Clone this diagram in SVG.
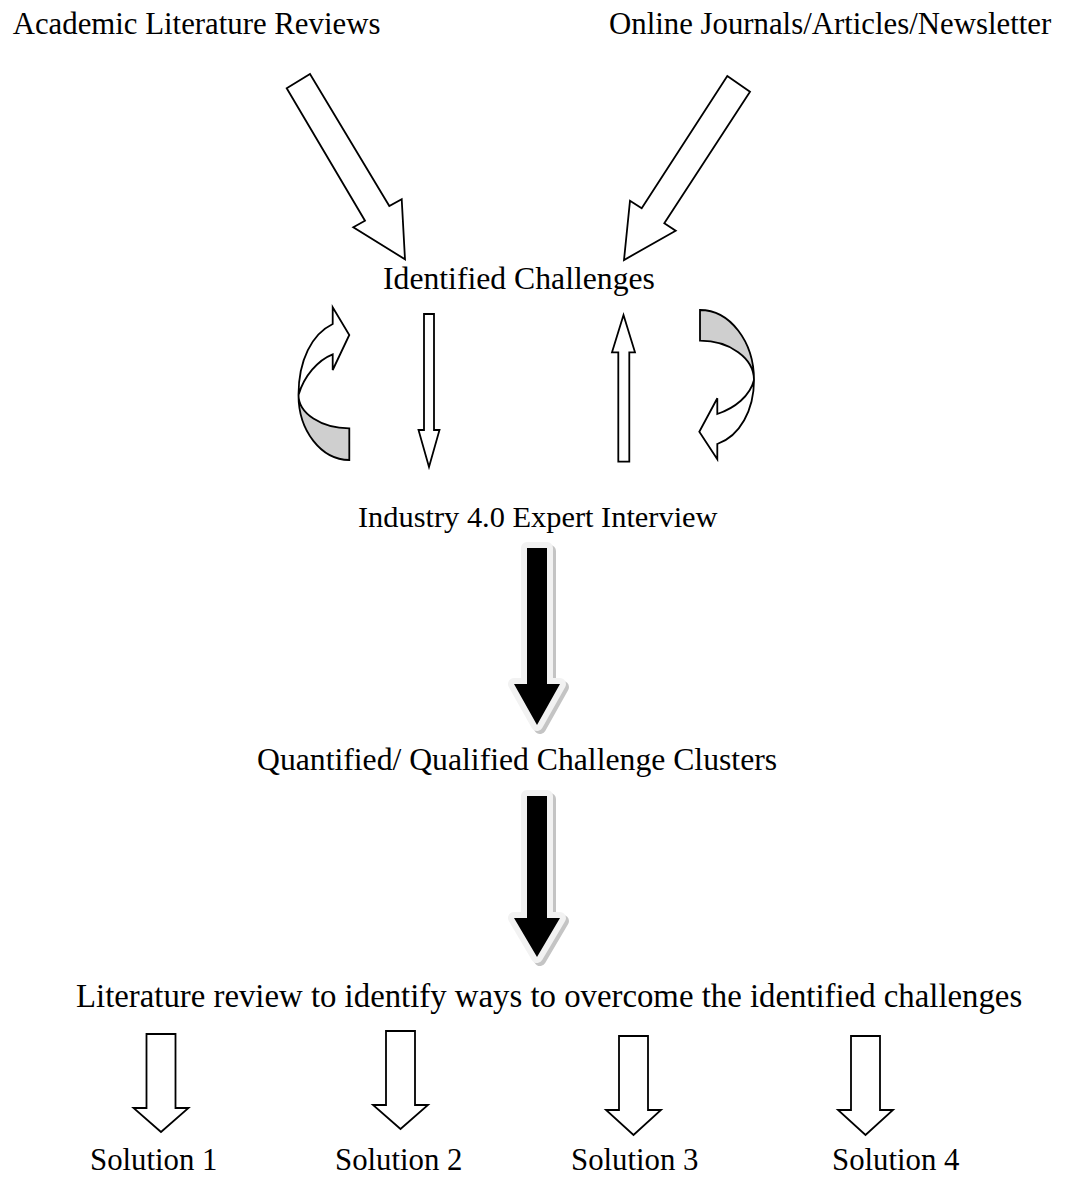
<svg xmlns="http://www.w3.org/2000/svg" width="1082" height="1178" viewBox="0 0 1082 1178">
<style>
  .t { font-family: "Liberation Serif", "Times New Roman", serif; font-size: 30.8px; fill: #000; }
  .hollow { fill: #fff; stroke: #000; stroke-width: 1.8; stroke-linejoin: miter; }
  .grey { fill: #cfcfcf; stroke: #000; stroke-width: 1.8; stroke-linejoin: miter; }
  .bshadow { fill: #c4c4c4; stroke: #c4c4c4; stroke-width: 12; stroke-linejoin: round; }
  .bborder { fill: #f2f2f2; stroke: #f2f2f2; stroke-width: 12; stroke-linejoin: round; }
  .bfill { fill: #000; stroke: none; }
</style>
<defs>
  <path id="bigArrow1" d="M527,548 H547 V684 H560 L537,725 L514,684 H527 Z"/>
  <path id="bigArrow2" d="M527,796 H547 V918 H560 L537,957 L514,918 H527 Z"/>
</defs>

<g id="node-academic"><text class="t" x="12.7" y="34">Academic Literature Reviews</text></g>
<g id="node-online"><text class="t" x="609" y="34">Online Journals/Articles/Newsletter</text></g>
<g id="node-identified"><text class="t" x="383" y="289" style="font-size:31.7px">Identified Challenges</text></g>
<g id="node-interview"><text class="t" x="358" y="527" style="font-size:30.4px">Industry 4.0 Expert Interview</text></g>
<g id="node-clusters"><text class="t" x="257" y="770" style="font-size:31.7px">Quantified/ Qualified Challenge Clusters</text></g>
<g id="node-litreview"><text class="t" x="76" y="1007" style="font-size:32.8px">Literature review to identify ways to overcome the identified challenges</text></g>
<g id="node-solution1"><text class="t" x="90" y="1170">Solution 1</text></g>
<g id="node-solution2"><text class="t" x="335" y="1170">Solution 2</text></g>
<g id="node-solution3"><text class="t" x="571" y="1170">Solution 3</text></g>
<g id="node-solution4"><text class="t" x="832" y="1170">Solution 4</text></g>

<g id="connectors">
  <!-- big diagonal arrows -->
  <path class="hollow" d="M286.7,88.3 L310,74 L389.3,206 L401.7,199.3 L405,259.3 L353.3,227.3 L365,220.7 Z"/>
  <path class="hollow" d="M727.3,76 L750,91.7 L664.3,223.3 L675.7,230.7 L624,260 L630,200.7 L641.7,208.3 Z"/>

  <!-- thin down / up arrows -->
  <path class="hollow" d="M424,314 H434 V430 H439.5 L429,467 L418.5,430 H424 Z"/>
  <path class="hollow" d="M623.5,315 L635,352.3 H629.3 V461.7 H618.3 V352.3 H612 Z"/>

  <!-- left curved arrow -->
  <path class="grey" d="M349.3,460 A51,65 0 0 1 298.5,395 A50.8,33.3 0 0 0 349.3,428.3 Z"/>
  <path class="hollow" d="M298.5,395 C298.5,360 312,334 332.7,324 L332.7,307.3 L349.3,335 L332.7,370 L332.7,354.3 C318,360 304,376 298.5,395 Z"/>

  <!-- right curved arrow -->
  <path class="grey" d="M700,310 A54,70 0 0 1 754,380 A54,39.3 0 0 0 700,340.7 Z"/>
  <path class="hollow" d="M754,380 C754,410 740,436 717.3,444 L717.3,459.3 L699.3,431.7 L717.3,398.3 L717.3,414 C735,408 750,396 754,380 Z"/>

  <!-- black block arrows -->
  <use href="#bigArrow1" class="bshadow" transform="translate(3,3)"/>
  <use href="#bigArrow1" class="bborder"/>
  <use href="#bigArrow1" class="bfill"/>
  <use href="#bigArrow2" class="bshadow" transform="translate(3,3)"/>
  <use href="#bigArrow2" class="bborder"/>
  <use href="#bigArrow2" class="bfill"/>

  <!-- solution arrows -->
  <path class="hollow" d="M146.5,1034 H175.5 V1108 H188.5 L161,1132 L133.5,1108 H146.5 Z"/>
  <path class="hollow" d="M386,1031 H415 V1105 H428 L400.5,1129 L373,1105 H386 Z"/>
  <path class="hollow" d="M619,1036 H648 V1110 H661 L633.5,1135 L606,1110 H619 Z"/>
  <path class="hollow" d="M851,1036 H880 V1110 H893 L865.5,1135 L838,1110 H851 Z"/>
</g>
</svg>
